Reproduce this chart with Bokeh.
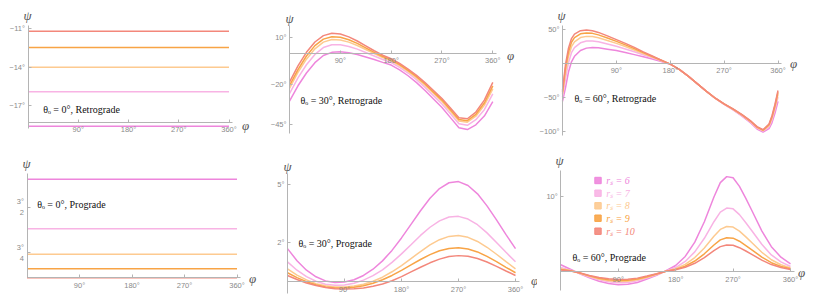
from bokeh.plotting import figure
from bokeh.models import Range1d, FixedTicker, Label, BoxAnnotation
from bokeh.layouts import row, column
from bokeh.embed import file_html
from bokeh.resources import INLINE

# ---------------- data ----------------
rs_values = [6, 7, 8, 9, 10]
colors = ["#ee86dc", "#f8b3e4", "#fdca90", "#f8a446", "#f3877b"]

phi_flat = [0, 360]
# theta_o = 0 (constant in phi), order r_s = 6, 7, 8, 9, 10
psi_retro_0 = [-18.6, -15.9, -14.0, -12.45, -11.2]
psi_pro_0 = [1.96, 1.145, 0.727, 0.487, 0.339]

phi_15 = [0, 15, 30, 45, 60, 75, 90, 105, 120, 135, 150, 165, 180,
          195, 210, 225, 240, 255, 270, 285, 300, 315, 330, 345, 360]

# theta_o = 30, retrograde
retro30_r6 = [-30.2, -20.5, -12.5, -6.0, -1.5, 0.5, 0.8, 0.2, -0.9, -2.4, -4.0, -5.8, -7.5,
              -10.5, -14.2, -18.5, -23.5, -28.8, -34.1, -40.5, -46.8, -48.0, -45.0, -39.5, -30.4]
retro30_r7 = [-25.4, -15.5, -7.3, -0.8, 3.5, 5.3, 5.3, 4.2, 2.5, 0.4, -1.8, -4.0, -5.9,
              -8.9, -12.5, -16.7, -21.5, -26.7, -31.9, -38.1, -44.3, -45.3, -41.8, -35.5, -25.6]
retro30_r8 = [-22.2, -12.1, -3.8, 2.7, 6.9, 8.5, 8.3, 6.9, 4.8, 2.3, -0.3, -2.8, -4.8,
              -7.8, -11.4, -15.5, -20.2, -25.2, -30.3, -36.5, -42.6, -43.4, -39.6, -32.8, -22.4]
retro30_r9 = [-20.4, -10.3, -1.8, 4.7, 8.8, 10.3, 10.0, 8.4, 6.1, 3.3, 0.5, -2.1, -4.2,
              -7.2, -10.8, -14.8, -19.4, -24.5, -29.5, -35.6, -41.6, -42.4, -38.4, -31.3, -20.6]
retro30_r10 = [-18.2, -8.0, 0.5, 7.0, 11.0, 12.5, 12.0, 10.2, 7.6, 4.6, 1.5, -1.3, -3.5,
               -6.5, -10.0, -14.0, -18.5, -23.5, -28.5, -34.5, -40.5, -41.2, -37.0, -29.5, -18.4]

# theta_o = 60, retrograde
phi_r60 = [0, 5, 10, 15, 20, 30, 40, 50, 60, 75, 90, 105, 120, 135, 150, 165, 180,
           195, 210, 225, 240, 255, 270, 285, 300, 315, 325, 335, 345, 350, 355, 360]
retro60_r6 = [-56, -36, -13, 2, 10, 18.5, 22, 23, 22.5, 20.5, 18.5, 15.5, 12.5, 9.5, 6, 2.5, -1.5,
              -9, -19, -30, -41, -51.5, -60.5, -68.5, -77.5, -88, -96.5, -101, -96, -87, -73, -56]
retro60_r7 = [-49.8, -22.7, 0.7, 15.3, 22.7, 29.8, 32.3, 32.6, 31.3, 28.1, 24.7, 20.8, 16.6, 12.2, 7.8, 3.3, -1.5,
              -9, -19, -30, -41, -51.3, -60.1, -67.9, -76.7, -86.8, -95.1, -99.6, -93.3, -83.1, -67.9, -49.8]
retro60_r8 = [-45.6, -13.9, 9.8, 24.1, 31.1, 37.4, 39.2, 38.9, 37.1, 33.2, 28.9, 24.3, 19.3, 14.1, 8.9, 3.8, -1.5,
              -9, -19, -30, -41, -51.2, -59.9, -67.5, -76.2, -86.1, -94.2, -98.7, -91.5, -80.5, -64.6, -45.6]
retro60_r9 = [-42.6, -7.4, 16.4, 30.6, 37.3, 42.9, 44.3, 43.6, 41.4, 36.9, 31.9, 26.8, 21.3, 15.4, 9.8, 4.2, -1.5,
              -9, -19, -30, -41, -51.1, -59.7, -67.2, -75.8, -85.5, -93.6, -98.1, -90.1, -78.6, -62.1, -42.6]
retro60_r10 = [-40, -2, 22, 36, 42.5, 47.5, 48.5, 47.5, 45, 40, 34.5, 29, 23, 16.5, 10.5, 4.5, -1.5,
               -9, -19, -30, -41, -51, -59.5, -67, -75.5, -85, -93, -97.5, -89, -77, -60, -40]

# theta_o = 30, prograde
pro30_r6 = [1.70, 1.08, 0.59, 0.25, 0.04, -0.04, -0.02, 0.10, 0.32, 0.64, 1.07, 1.61, 2.25,
            2.95, 3.65, 4.29, 4.79, 5.09, 5.15, 4.95, 4.52, 3.90, 3.18, 2.42, 1.70]
pro30_r7 = [1.02, 0.59, 0.26, 0.02, -0.13, -0.19, -0.17, -0.08, 0.08, 0.31, 0.61, 0.99, 1.43,
            1.90, 2.38, 2.80, 3.13, 3.33, 3.36, 3.22, 2.93, 2.51, 2.02, 1.51, 1.02]
pro30_r8 = [0.66, 0.34, 0.09, -0.10, -0.21, -0.27, -0.27, -0.22, -0.13, 0.02, 0.23, 0.51, 0.83,
            1.19, 1.55, 1.89, 2.16, 2.33, 2.37, 2.28, 2.07, 1.77, 1.41, 1.03, 0.66]
pro30_r9 = [0.46, 0.21, 0.00, -0.16, -0.27, -0.32, -0.33, -0.29, -0.21, -0.08, 0.10, 0.32, 0.58,
            0.86, 1.14, 1.39, 1.59, 1.71, 1.74, 1.68, 1.53, 1.30, 1.03, 0.74, 0.46]
pro30_r10 = [0.32, 0.11, -0.07, -0.20, -0.30, -0.36, -0.38, -0.37, -0.33, -0.24, -0.12, 0.05, 0.26,
             0.50, 0.74, 0.97, 1.16, 1.29, 1.34, 1.31, 1.19, 1.01, 0.79, 0.55, 0.32]

# theta_o = 60, prograde
phi_p60 = [0, 15, 30, 45, 60, 75, 90, 105, 120, 135, 150, 165, 180,
           195, 210, 225, 240, 250, 260, 270, 280, 290, 300, 315, 330, 345, 360]
pro60_r6 = [0.9, 0.3, -0.3, -0.85, -1.3, -1.6, -1.75, -1.7, -1.45, -1.0, -0.5, 0.1, 0.8,
            2.0, 3.9, 6.6, 9.9, 11.8, 12.6, 12.45, 11.3, 9.7, 8.0, 5.4, 3.3, 1.9, 1.0]
pro60_r7 = [0.55, 0.18, -0.26, -0.73, -1.11, -1.37, -1.5, -1.46, -1.24, -0.86, -0.43, 0.07, 0.53,
            1.34, 2.61, 4.41, 6.61, 7.88, 8.42, 8.32, 7.55, 6.48, 5.34, 3.61, 2.2, 1.27, 0.67]
pro60_r8 = [0.36, 0.12, -0.23, -0.65, -0.99, -1.22, -1.33, -1.29, -1.10, -0.76, -0.38, 0.05, 0.38,
            0.95, 1.85, 3.13, 4.69, 5.59, 5.97, 5.9, 5.36, 4.6, 3.79, 2.56, 1.56, 0.9, 0.47]
pro60_r9 = [0.26, 0.09, -0.21, -0.58, -0.89, -1.10, -1.2, -1.17, -0.99, -0.69, -0.34, 0.04, 0.28,
            0.71, 1.39, 2.35, 3.52, 4.2, 4.49, 4.43, 4.02, 3.45, 2.85, 1.92, 1.17, 0.68, 0.36]
pro60_r10 = [0.2, 0.07, -0.18, -0.52, -0.79, -0.97, -1.06, -1.03, -0.88, -0.61, -0.3, 0.03, 0.22,
             0.56, 1.09, 1.85, 2.77, 3.3, 3.53, 3.49, 3.16, 2.72, 2.24, 1.51, 0.92, 0.53, 0.28]

x_ticks = [90, 180, 270, 360]
x_tick_labels = ["90°", "180°", "270°", "360°"]

# ---------------- styling helpers ----------------
AXIS_COLOR = "#b4b4b4"
TICK_TEXT = "#8a8a8a"
SERIF = "Liberation Serif"


def panel(box, xa, ya, x_axis_at, ybounds, yticks, ylabels, curves,
          caption, psi_pos, phi_pos, cap_pos):
    L, R, T, B = box
    p0x, v0x, p1x, v1x = xa
    p0y, v0y, p1y, v1y = ya

    def fx(px):
        return v0x + (px - p0x) * (v1x - v0x) / (p1x - p0x)

    def fy(py):
        return v0y + (py - p0y) * (v1y - v0y) / (p1y - p0y)

    p = figure(width=R - L, height=B - T,
               x_range=Range1d(fx(L), fx(R)), y_range=Range1d(fy(B), fy(T)),
               output_backend="svg", toolbar_location=None, min_border=0,
               outline_line_color=None)
    p.grid.visible = False

    xa_ = p.xaxis[0]
    ya_ = p.yaxis[0]
    xa_.fixed_location = x_axis_at
    ya_.fixed_location = 0
    for ax in (xa_, ya_):
        ax.axis_line_color = AXIS_COLOR
        ax.major_tick_line_color = AXIS_COLOR
        ax.minor_tick_line_color = None
        ax.major_tick_in = 3
        ax.major_tick_out = 0
        ax.major_label_text_font = "Liberation Sans"
        ax.major_label_text_font_size = "7.5px"
        ax.major_label_text_color = TICK_TEXT
        ax.major_label_standoff = 3
    xa_.ticker = FixedTicker(ticks=x_ticks)
    xa_.major_label_overrides = dict(zip(x_ticks, x_tick_labels))
    xa_.bounds = (0, 366)
    ya_.ticker = FixedTicker(ticks=yticks)
    ya_.major_label_overrides = dict(zip(yticks, ylabels))
    ya_.bounds = ybounds

    for (xs, ys), c in zip(curves, colors):
        p.line(xs, ys, line_color=c, line_width=1.5)

    p.add_layout(Label(x=fx(psi_pos[0]), y=fy(psi_pos[1]), text="ψ",
                       text_font=SERIF, text_font_style="italic",
                       text_font_size="13px", text_color="#555555",
                       text_align="center", text_baseline="middle"))
    p.add_layout(Label(x=fx(phi_pos[0]), y=fy(phi_pos[1]), text="φ",
                       text_font=SERIF, text_font_style="italic",
                       text_font_size="13px", text_color="#555555",
                       text_align="center", text_baseline="middle"))
    p.add_layout(Label(x=fx(cap_pos[0]), y=fy(cap_pos[1]), text=caption,
                       text_font=SERIF, text_font_size="10px",
                       text_color="#111111",
                       text_align="left", text_baseline="middle"))
    return p, fx, fy


# ---------------- panels ----------------
flat_retro = [(phi_flat, [v, v]) for v in psi_retro_0]
flat_pro = [(phi_flat, [v, v]) for v in psi_pro_0]
r30 = [(phi_15, s) for s in (retro30_r6, retro30_r7, retro30_r8, retro30_r9, retro30_r10)]
r60 = [(phi_r60, s) for s in (retro60_r6, retro60_r7, retro60_r8, retro60_r9, retro60_r10)]
p30 = [(phi_15, s) for s in (pro30_r6, pro30_r7, pro30_r8, pro30_r9, pro30_r10)]
p60 = [(phi_p60, s) for s in (pro60_r6, pro60_r7, pro60_r8, pro60_r9, pro60_r10)]

tl, _, _ = panel((0, 268, 0, 146), (27.5, 0, 228.5, 360), (28.3, -11, 105.3, -17),
                 -18.28, (-18.77, -10.74), [-17, -14, -11], ["−17°", "−14°", "−11°"],
                 flat_retro, "θₒ = 0°, Retrograde", (27, 15), (245, 125), (42.7, 109))
tm, _, _ = panel((268, 537, 0, 146), (289, 0, 492.3, 360), (36.7, 10, 124.3, -45),
                 0, (-50.5, 17.3), [-45, -20, 10], ["−45°", "−20°", "10°"],
                 r30, "θₒ = 30°, Retrograde", (289, 18), (510, 55), (300, 100))
tr, _, _ = panel((537, 809, 0, 146), (562, 0, 777.5, 360), (28.5, 50, 96.8, -50),
                 0, (-106, 55), [-100, -50, 50], ["−100°", "−50°", "50°"],
                 r60, "θₒ = 60°, Retrograde", (561, 15), (793, 63), (574, 98))
bl, _, _ = panel((0, 268, 146, 294), (26.5, 0, 236.5, 360), (206.7, 1.5, 252.3, 0.75),
                 0.339, (0.339, 2.05), [0.75, 1.5], ["3°\n4", "3°\n2"],
                 flat_pro, "θₒ = 0°, Prograde", (26, 163), (252, 278), (36.7, 204.3))
bm, _, _ = panel((268, 537, 146, 294), (287, 0, 515, 360), (184, 5, 242.3, 2),
                 0, (-0.6, 5.55), [2, 5], ["2°", "5°"],
                 p30, "θₒ = 30°, Prograde", (287, 166), (534, 280), (298, 243.3))
br, fx, fy = panel((537, 809, 146, 294), (560.3, 0, 790, 360), (195.7, 10, 271, 0),
                   0, (-2.5, 13.4), [10], ["10°"],
                   p60, "θₒ = 60°, Prograde", (559, 160), (801, 272), (572, 256.7))

# legend (r_s) in the last panel
legend_rows = [180, 192.7, 205.3, 217.7, 230.7]
for rs, c, yc in zip(rs_values, colors, legend_rows):
    br.add_layout(BoxAnnotation(left=fx(594.3), right=fx(600.7), top=fy(yc - 3.2), bottom=fy(yc + 3.2),
                                fill_color=c, fill_alpha=0.9, line_color=c, line_alpha=1.0,
                                line_width=1))
    br.add_layout(Label(x=fx(605.7), y=fy(yc), text=f"rₛ = {rs}",
                        text_font=SERIF, text_font_style="italic", text_font_size="10px",
                        text_color=c, text_align="left", text_baseline="middle"))

layout = column(row(tl, tm, tr), row(bl, bm, br))
open("out.html", "w").write(file_html(layout, INLINE))
